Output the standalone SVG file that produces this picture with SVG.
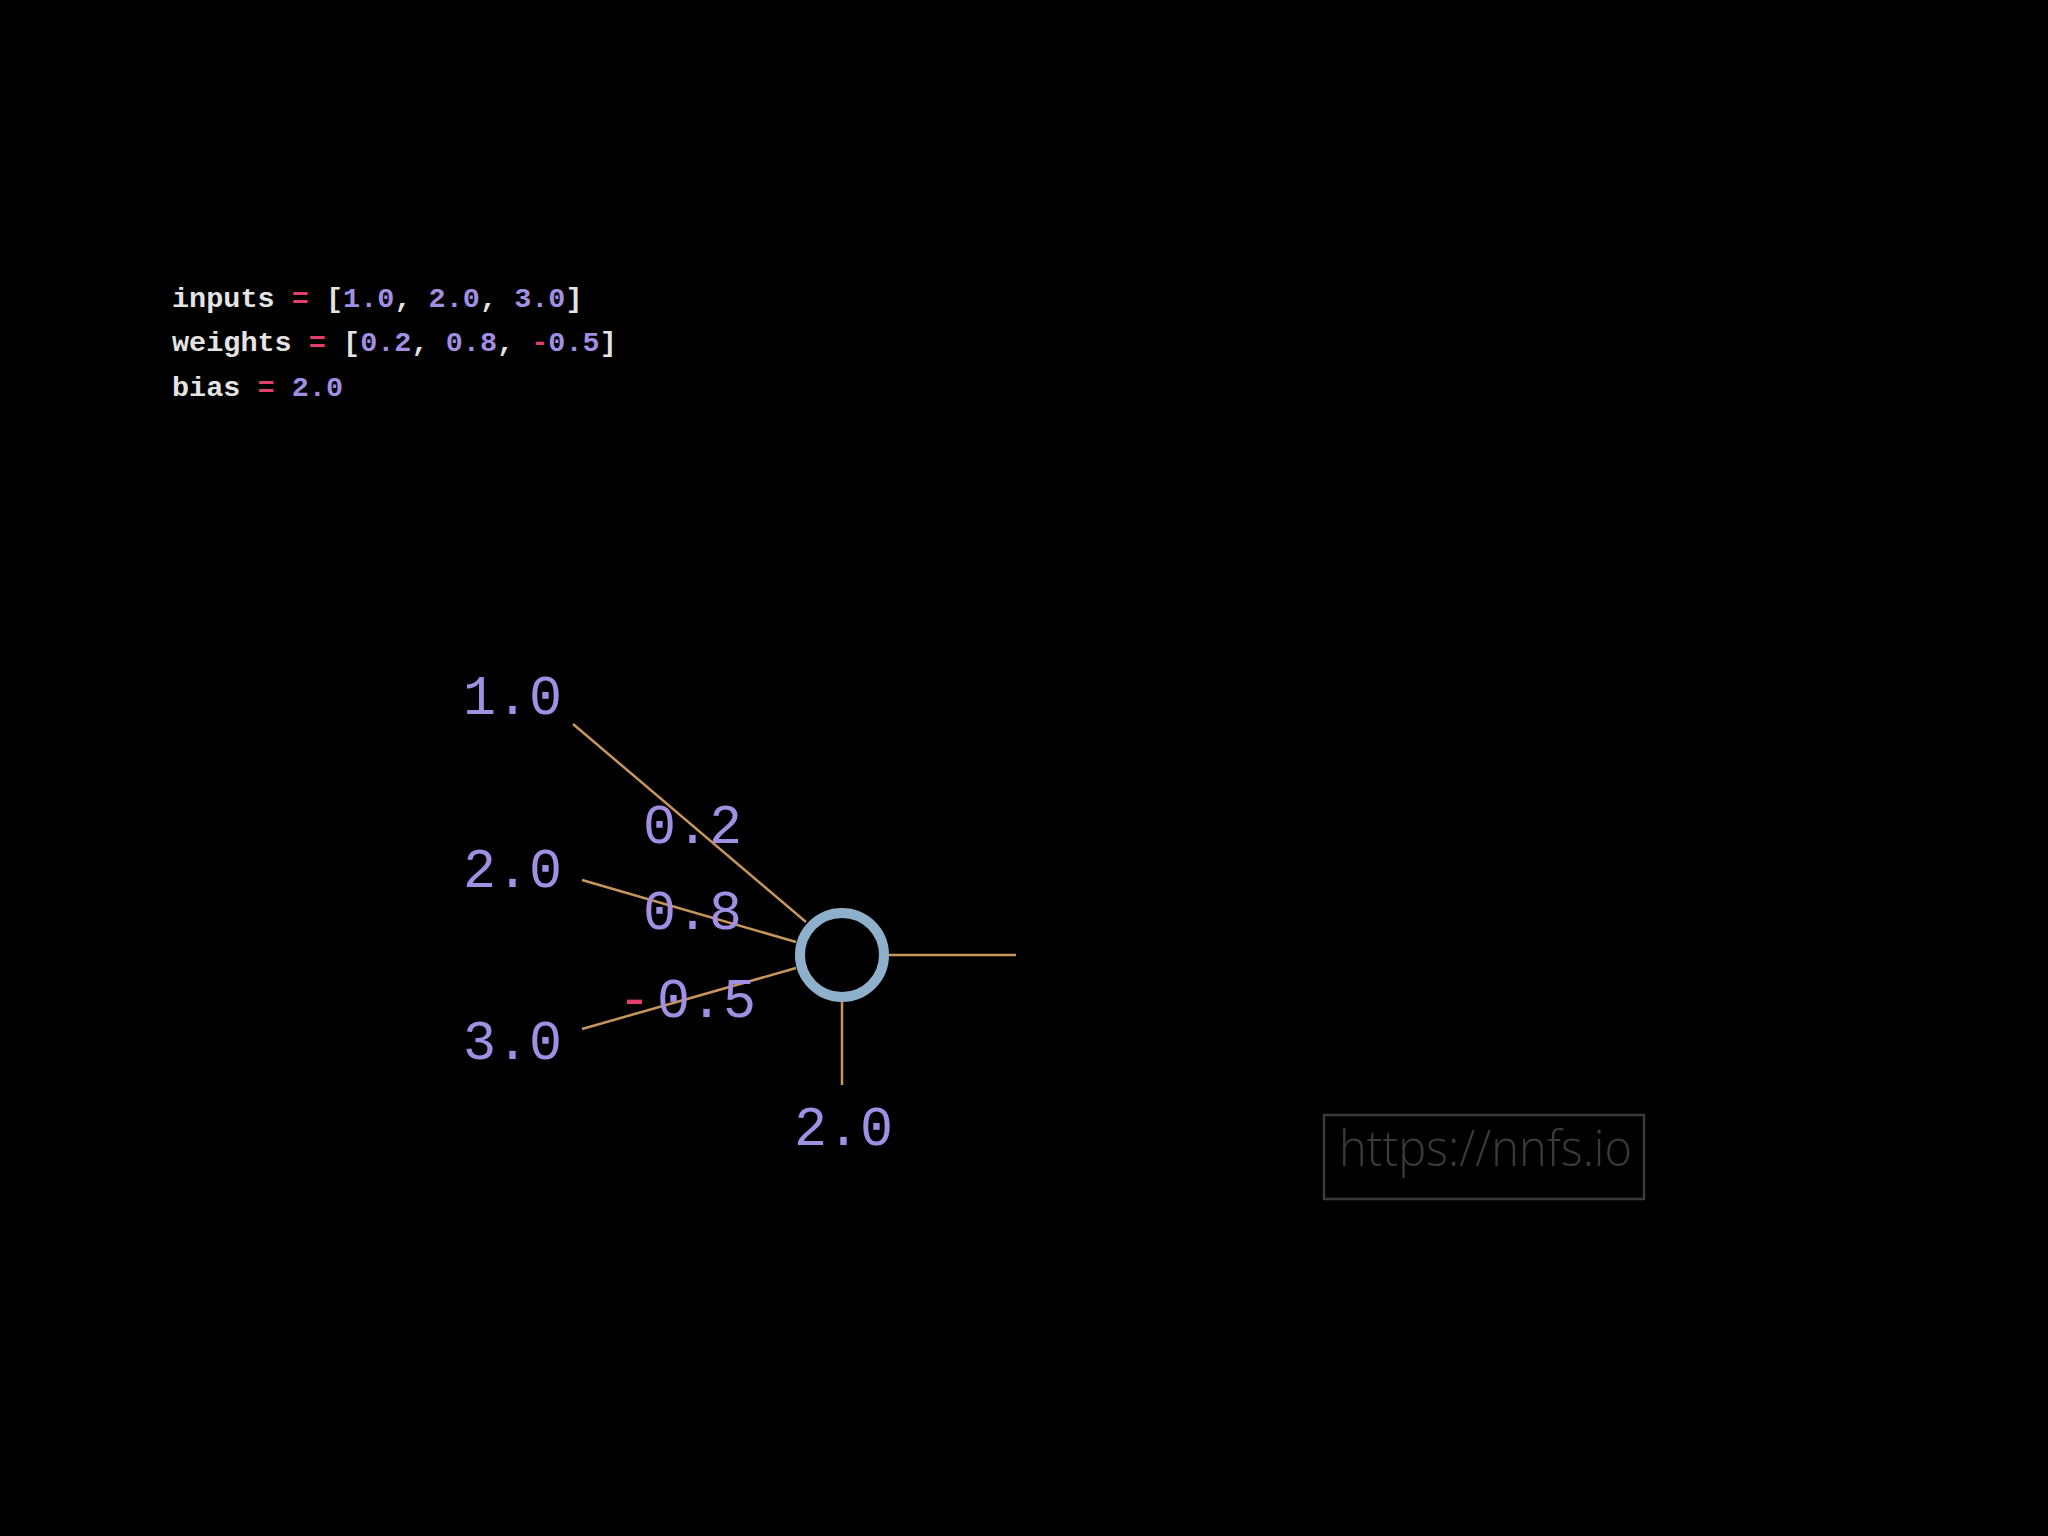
<svg xmlns="http://www.w3.org/2000/svg" width="2048" height="1536" viewBox="0 0 2048 1536">
<style>
.code{font-family:"Liberation Mono","Courier New",monospace;font-size:28.5px;font-weight:bold;fill:#e4e4e4}
.op{fill:#e0406a}
.num{fill:#a08fe2}
.lbl{font-family:"Liberation Mono","Courier New",monospace;font-size:55px;fill:#a08fe2}
.edge{stroke:#c8965c;stroke-width:2.5;fill:none}
</style>
<rect width="2048" height="1536" fill="#000"/>
<g id="code">
<text class="code" x="172" y="307">inputs <tspan class="op">=</tspan> [<tspan class="num">1.0</tspan>, <tspan class="num">2.0</tspan>, <tspan class="num">3.0</tspan>]</text>
<text class="code" x="172" y="351">weights <tspan class="op">=</tspan> [<tspan class="num">0.2</tspan>, <tspan class="num">0.8</tspan>, <tspan class="op">-</tspan><tspan class="num">0.5</tspan>]</text>
<text class="code" x="172" y="396">bias <tspan class="op">=</tspan> <tspan class="num">2.0</tspan></text>
</g>
<g id="connectors">
<line class="edge" x1="573" y1="724" x2="806" y2="922"/>
<line class="edge" x1="582" y1="880" x2="796" y2="942"/>
<line class="edge" x1="582" y1="1029" x2="796" y2="968"/>
<line class="edge" x1="888" y1="955" x2="1016" y2="955"/>
<line class="edge" x1="842" y1="1002" x2="842" y2="1085"/>
</g>
<g id="input1"><text class="lbl" x="463" y="714">1.0</text></g>
<g id="input2"><text class="lbl" x="463" y="887">2.0</text></g>
<g id="input3"><text class="lbl" x="463" y="1059">3.0</text></g>
<g id="weight1"><text class="lbl" x="643" y="843">0.2</text></g>
<g id="weight2"><text class="lbl" x="643" y="929">0.8</text></g>
<g id="weight3"><text class="lbl" x="618" y="1017"><tspan class="op">-</tspan><tspan dx="6">0.5</tspan></text></g>
<g id="neuron"><circle cx="842" cy="955" r="42" fill="none" stroke="#8fb0cb" stroke-width="10"/></g>
<g id="bias"><text class="lbl" x="794" y="1145">2.0</text></g>
<g id="watermark">
<rect x="1324" y="1115" width="320" height="84" fill="none" stroke="#3a3a3a" stroke-width="2.5"/>
<text x="1339" y="1166" font-family="'Open Sans',sans-serif" font-weight="300" font-size="50" fill="#3a3a3a" textLength="293" lengthAdjust="spacingAndGlyphs">https://nnfs.io</text>
</g>
</svg>
